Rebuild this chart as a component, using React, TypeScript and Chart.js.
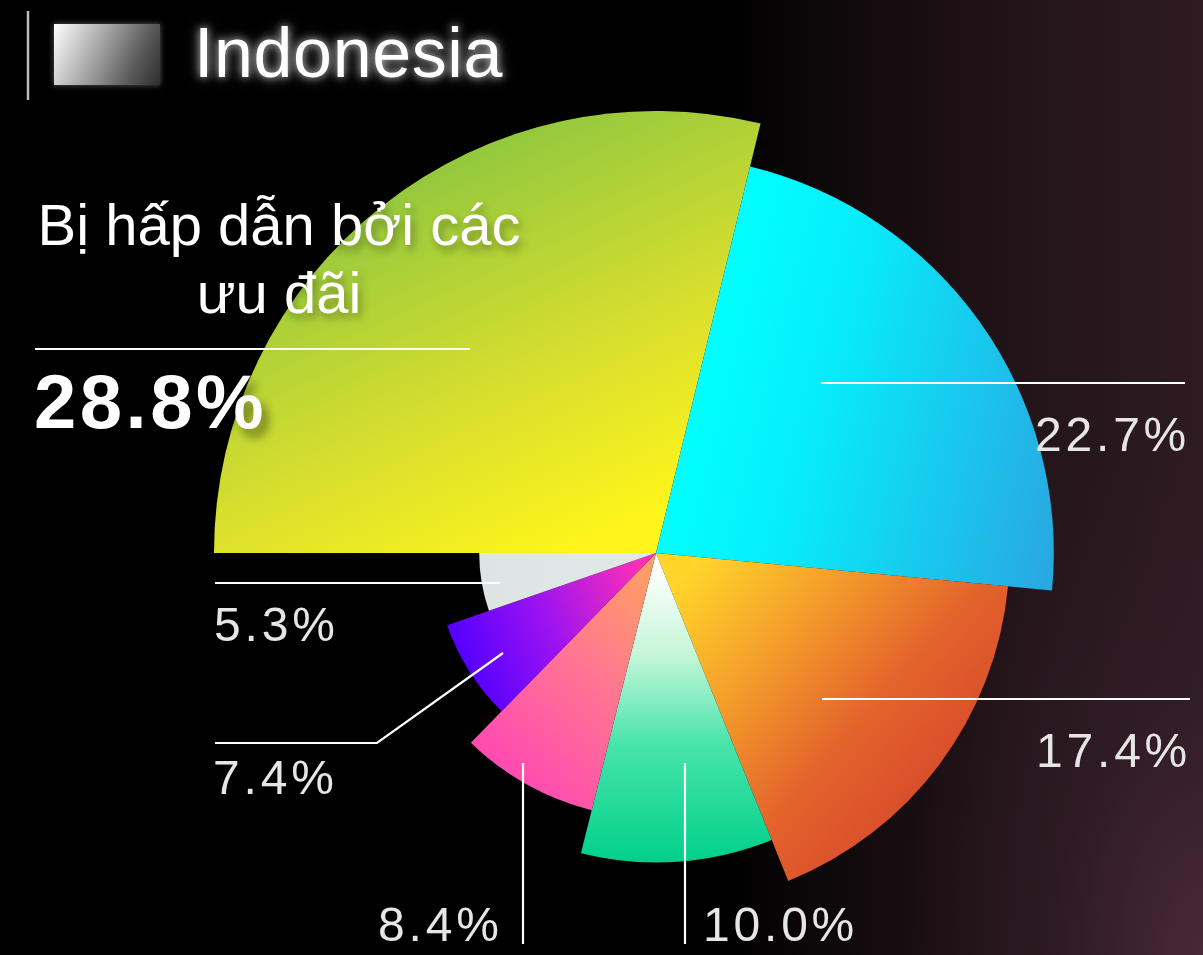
import React, { useEffect, useRef } from "react";
import { Chart, registerables } from "chart.js";

Chart.register(...registerables);

// ---- data ----
const seriesName = "Indonesia";
const highlightLines = ["Bị hấp dẫn bởi các", "ưu đãi"];
const shares = [28.8, 22.7, 17.4, 10.0, 8.4, 7.4, 5.3]; // percent -> slice angle
const rankRadius = [100, 90, 80, 70, 60, 50, 40]; // relative slice radius
const shareLabels = shares.map((v) => v.toFixed(1) + "%");

// ---- styles (gradient endpoints relative to centre, in units of scale radius) ----
type Stop = [number, string];
const sliceGradients: { from: [number, number]; to: [number, number]; stops: Stop[] }[] = [
  { from: [-0.127, -0.03], to: [-0.534, -0.912], stops: [[0, "#fff51b"], [0.42, "#d8de2e"], [1, "#8cc63f"]] },
  { from: [0, 0], to: [0.872, 0.222], stops: [[0, "#00ffff"], [0.3, "#07ecfa"], [1, "#2aa5e0"]] },
  { from: [0.077, 0.038], to: [0.665, 0.559], stops: [[0, "#ffd52a"], [0.3, "#f5a22b"], [0.65, "#e4642b"], [1, "#d6482c"]] },
  { from: [0, 0.03], to: [0, 0.7], stops: [[0, "#ffffff"], [0.3, "#c4f6d8"], [0.6, "#48e4aa"], [1, "#00d08a"]] },
  { from: [-0.036, 0.038], to: [-0.398, 0.423], stops: [[0, "#ff9d66"], [0.45, "#ff7790"], [1, "#ff4cb0"]] },
  { from: [-0.466, 0.197], to: [-0.036, 0.016], stops: [[0, "#5200ff"], [0.45, "#9a12f2"], [1, "#ff30b6"]] },
  { from: [0, 0], to: [-0.4, 0.1], stops: [[0, "#e2e8e8"], [1, "#dde4e4"]] },
];

const labelFont = "'Liberation Sans', Arial, sans-serif";

export default function App() {
  const canvasRef = useRef<HTMLCanvasElement | null>(null);

  useEffect(() => {
    const canvas = canvasRef.current;
    if (!canvas) return;
    const chart = new Chart(canvas, {
      type: "polarArea",
      data: {
        labels: shareLabels,
        datasets: [
          {
            label: seriesName,
            data: rankRadius,
            angle: (c: any) => shares[c.dataIndex] * 3.6,
            borderWidth: 0,
            clip: false,
            backgroundColor: (c: any) => {
              const s: any = c.chart.scales && c.chart.scales.r;
              const g = sliceGradients[c.dataIndex];
              if (!s || !g || !s.drawingArea) return "#cccccc";
              const R = s.drawingArea;
              const cx = s.xCenter;
              const cy = s.yCenter;
              const grad = c.chart.ctx.createLinearGradient(
                cx + g.from[0] * R,
                cy + g.from[1] * R,
                cx + g.to[0] * R,
                cy + g.to[1] * R
              );
              g.stops.forEach(([o, col]) => grad.addColorStop(o, col));
              return grad;
            },
          } as any,
        ],
      },
      options: {
        animation: false,
        responsive: false,
        devicePixelRatio: 1,
        layout: { padding: 0 },
        plugins: { legend: { display: false }, tooltip: { enabled: false } },
        scales: {
          r: {
            display: false,
            min: 0,
            max: 100,
            startAngle: 270,
            grid: { display: false },
            angleLines: { display: false },
            pointLabels: { display: false },
            ticks: { display: false },
          },
        },
      } as any,
    });
    return () => chart.destroy();
  }, []);

  const pct = (text: string, left: number, top: number) => (
    <div
      style={{
        position: "absolute",
        left,
        top,
        fontFamily: labelFont,
        fontSize: 48,
        lineHeight: "48px",
        letterSpacing: 3.8,
        color: "#e6e6e6",
        whiteSpace: "nowrap",
      }}
    >
      {text}
    </div>
  );

  return (
    <div
      style={{
        position: "absolute",
        left: 0,
        top: 0,
        width: 1203,
        height: 955,
        overflow: "hidden",
        background:
          "radial-gradient(ellipse 300px 520px at 100% 100%, rgba(74,42,56,0.9) 0%, rgba(52,30,40,0.55) 50%, rgba(0,0,0,0) 100%), linear-gradient(90deg, #000000 0%, #000000 60%, #130b0e 72%, #23151a 86%, #2e1b22 100%)",
      }}
    >
      <canvas
        ref={canvasRef}
        width={884}
        height={884}
        style={{ position: "absolute", left: 214, top: 111 }}
      />
      <svg
        width={1203}
        height={955}
        style={{ position: "absolute", left: 0, top: 0 }}
      >
        <line x1={28} y1={11} x2={28} y2={100} stroke="#bdbdbd" strokeWidth={2.5} />
        <g stroke="#ffffff" strokeWidth={2.2} fill="none">
          <line x1={35} y1={349} x2={470} y2={349} />
          <line x1={821} y1={383} x2={1185} y2={383} />
          <line x1={822} y1={699} x2={1190} y2={699} />
          <line x1={523} y1={763} x2={523} y2={944} />
          <line x1={685} y1={763} x2={685} y2={944} />
          <line x1={215} y1={583} x2={500} y2={583} />
          <polyline points="215,743 377,743 503,653" />
        </g>
      </svg>
      {/* legend */}
      <div
        style={{
          position: "absolute",
          left: 54,
          top: 24,
          width: 106,
          height: 61,
          background: "linear-gradient(115deg, #ffffff 0%, #a8a8a8 40%, #5a5a5a 75%, #2e2e2e 100%)",
          boxShadow: "0 0 6px rgba(255,255,255,0.35)",
        }}
      />
      <div
        style={{
          position: "absolute",
          left: 194,
          top: 18,
          fontFamily: labelFont,
          fontSize: 70,
          lineHeight: "70px",
          letterSpacing: 0.6,
          color: "#ffffff",
          whiteSpace: "nowrap",
          textShadow: "0 0 8px rgba(255,255,255,0.75), 0 0 16px rgba(255,255,255,0.35)",
        }}
      >
        {seriesName}
      </div>
      {/* highlighted slice label */}
      <div
        style={{
          position: "absolute",
          left: 0,
          top: 191,
          width: 558,
          textAlign: "center",
          fontFamily: labelFont,
          fontSize: 58,
          lineHeight: "68px",
          color: "#ffffff",
          textShadow: "3px 5px 9px rgba(0,0,0,0.35)",
        }}
      >
        {highlightLines.map((l, i) => (
          <div key={i}>{l}</div>
        ))}
      </div>
      <div
        style={{
          position: "absolute",
          left: 34,
          top: 364,
          fontFamily: labelFont,
          fontWeight: 700,
          fontSize: 76,
          lineHeight: "76px",
          letterSpacing: 3.5,
          color: "#ffffff",
          whiteSpace: "nowrap",
          textShadow: "6px 8px 10px rgba(0,0,0,0.45)",
        }}
      >
        {shareLabels[0]}
      </div>
      {pct(shareLabels[1], 1035, 411)}
      {pct(shareLabels[2], 1036, 727)}
      {pct(shareLabels[3], 703, 901)}
      {pct(shareLabels[4], 378, 901)}
      {pct(shareLabels[5], 213, 754)}
      {pct(shareLabels[6], 214, 601)}
    </div>
  );
}
